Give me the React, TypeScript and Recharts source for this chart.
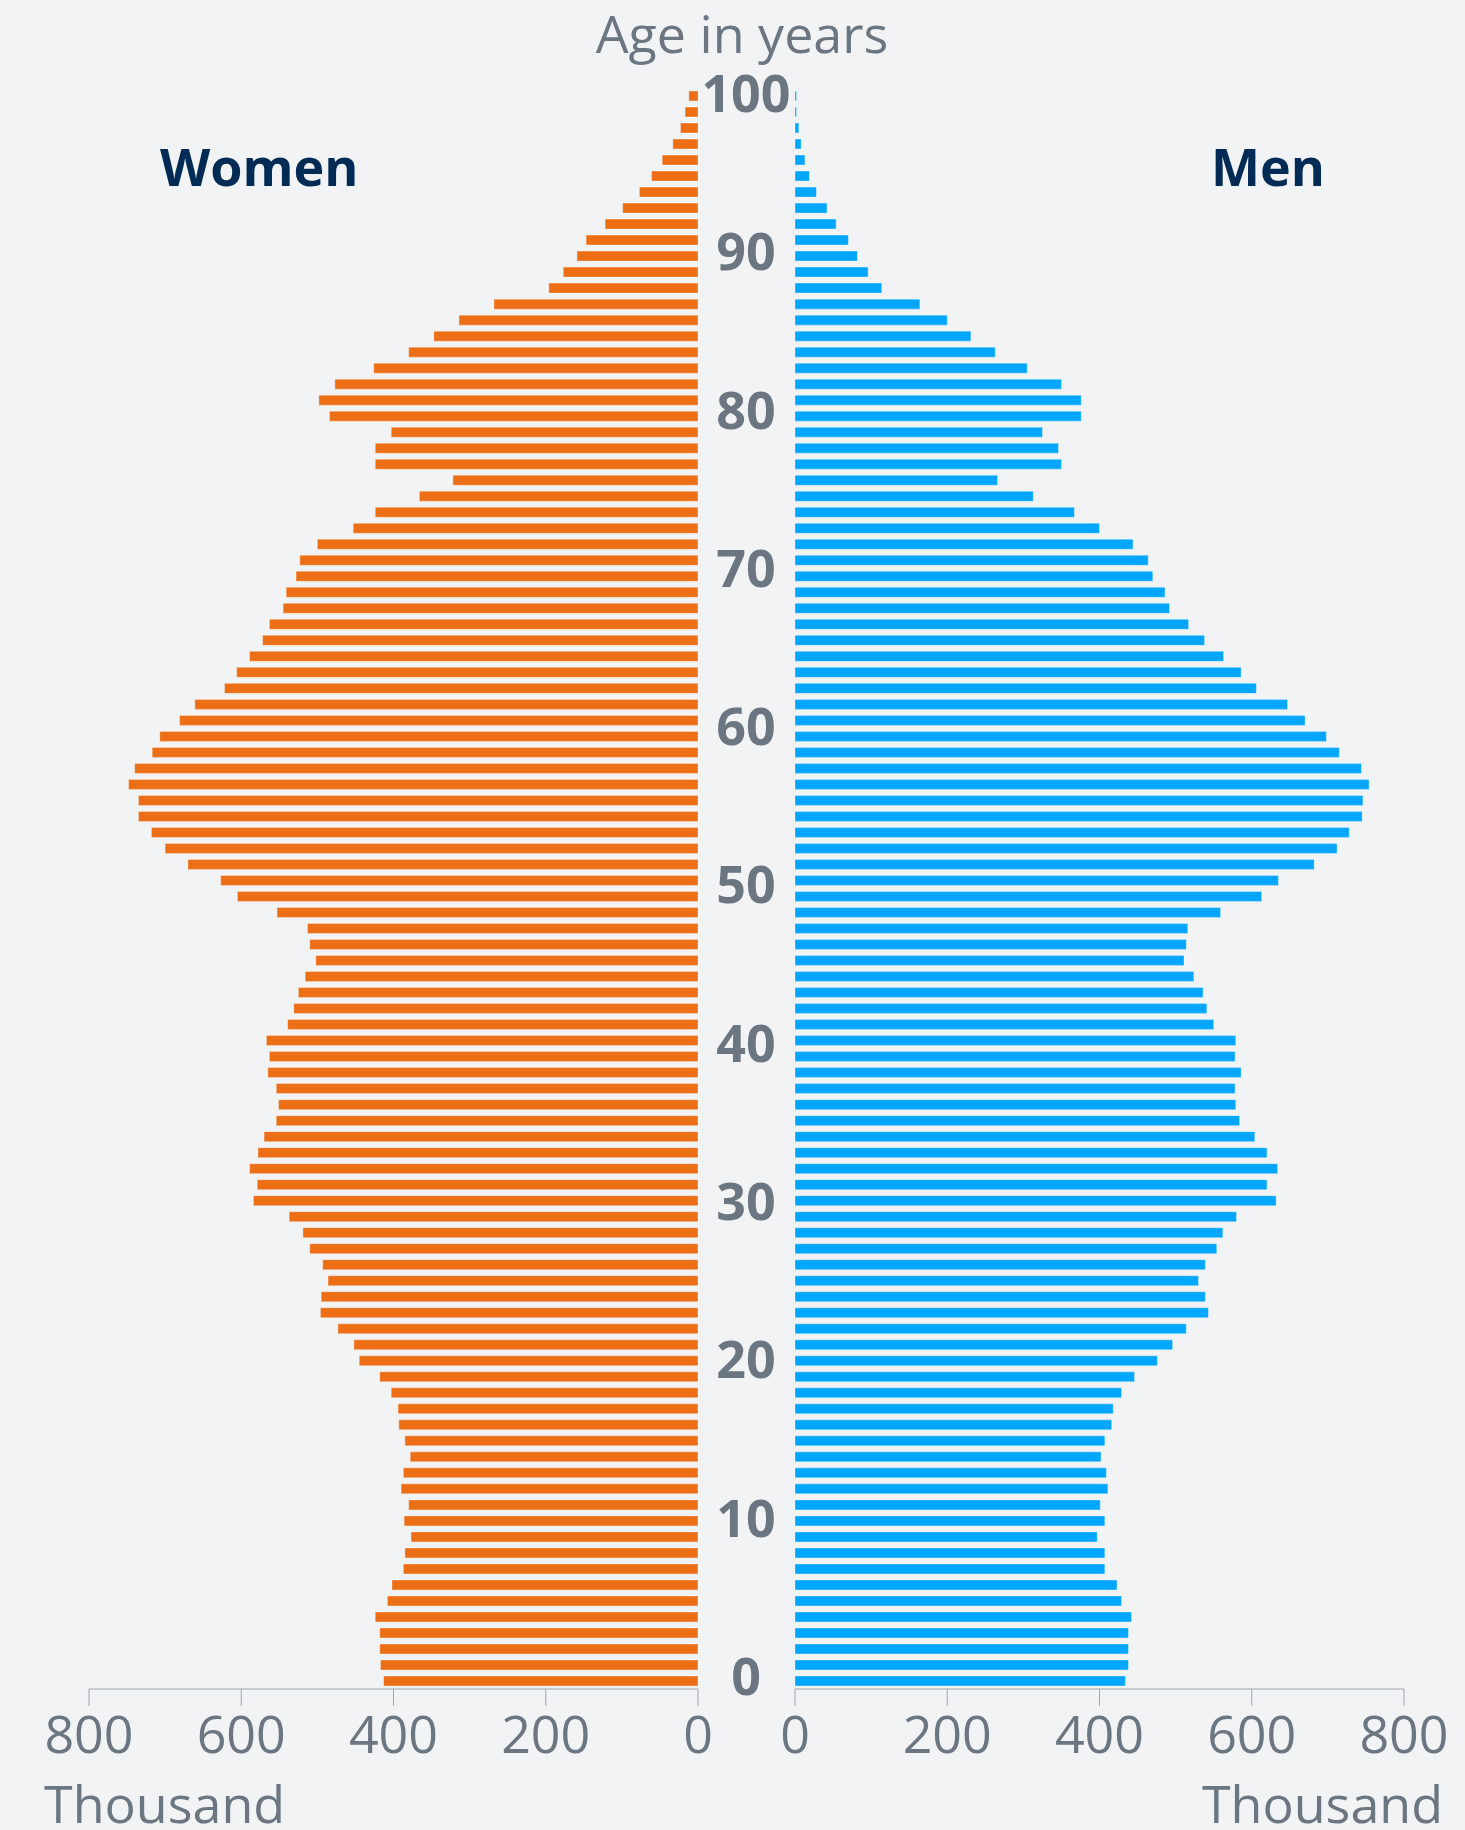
import { BarChart, Bar, XAxis, YAxis } from "recharts";

// age in years, 0 at the bottom of the pyramid
const ages = Array.from({ length: 100 }, (_, i) => i);

// population in thousands, by age (0 first)
const women = [
  413, 417, 418, 418, 424, 408, 402, 387, 385, 377,
  386, 380, 390, 387, 378, 385, 393, 394, 403, 418,
  445, 452, 473, 496, 495, 486, 493, 510, 519, 537,
  584, 579, 589, 578, 570, 554, 551, 554, 565, 563,
  567, 539, 531, 525, 516, 502, 510, 513, 553, 605,
  627, 670, 700, 718, 735, 735, 748, 740, 717, 707,
  681, 661, 622, 606, 589, 572, 563, 545, 541, 528,
  523, 500, 453, 424, 366, 322, 424, 424, 403, 484,
  498, 477, 426, 380, 347, 314, 268, 196, 177, 159,
  147, 122, 99, 77, 61, 47, 33, 23, 17, 12,
];

const men = [
  434, 438, 438, 438, 442, 429, 423, 407, 407, 397,
  407, 401, 411, 409, 402, 407, 416, 418, 429, 446,
  476, 496, 514, 543, 539, 530, 539, 554, 562, 580,
  632, 620, 634, 620, 604, 584, 579, 578, 586, 578,
  579, 550, 541, 536, 524, 511, 514, 516, 559, 613,
  635, 682, 712, 728, 745, 746, 754, 744, 715, 698,
  670, 647, 606, 586, 563, 538, 517, 492, 486, 470,
  464, 444, 400, 367, 313, 266, 350, 346, 325, 376,
  376, 350, 305, 263, 231, 200, 164, 114, 96, 82,
  70, 54, 42, 28, 19, 13, 8, 5, 2, 2,
];

const valueTicks = [0, 200, 400, 600, 800];
const ageTicks = [0, 10, 20, 30, 40, 50, 60, 70, 80, 90, 100];

const rows = ages.map((age, i) => ({ age, women: women[i], men: men[i] }));

const GRAY = "#6c7680";
const AXIS = "#9ea6ae";
const NAVY = "#002b55";
const ORANGE = "#ec6e15";
const BLUE = "#00a6ff";
const FONT = "'Open Sans', sans-serif";

function AgeTick(props: any) {
  const { x, y, payload } = props;
  return (
    <text x={x + 48} y={y} dy={18} textAnchor="middle" fill={GRAY} fontSize={52} fontWeight={700} fontFamily={FONT}>
      {payload.value}
    </text>
  );
}

const tickStyle = { fill: GRAY, fontSize: 52, fontFamily: FONT };

export default function App() {
  return (
    <div
      style={{
        position: "absolute",
        top: 0,
        left: 0,
        width: 1465,
        height: 1830,
        background: "#f2f3f5",
        fontFamily: FONT,
        overflow: "hidden",
      }}
    >
      <div style={{ position: "absolute", left: 0, top: 0 }}>
        <BarChart
          width={795}
          height={1830}
          data={rows}
          layout="vertical"
          margin={{ top: 88, right: 0, bottom: 0, left: 89 }}
          barSize={10}
        >
          <XAxis
            type="number"
            domain={[0, 800]}
            ticks={valueTicks}
            reversed
            height={141}
            interval={0}
            stroke={AXIS}
            tickSize={17}
            tickMargin={10}
            tick={tickStyle}
          />
          <YAxis yAxisId="cat" type="category" dataKey="age" reversed hide width={0} />
          {/* age labels sit a little inside the bar block, as in the source chart */}
          <YAxis
            yAxisId="age"
            type="number"
            dataKey="age"
            orientation="right"
            domain={[-0.76, 100.38]}
            ticks={ageTicks}
            reversed
            allowDataOverflow
            interval={0}
            width={97}
            axisLine={false}
            tickLine={false}
            tickSize={0}
            tickMargin={0}
            tick={<AgeTick />}
          />
          <Bar
            yAxisId="cat"
            dataKey="women"
            fill={ORANGE}
            stroke="#ffffff"
            strokeOpacity={0.35}
            strokeWidth={1}
            isAnimationActive={false}
          />
        </BarChart>
      </div>

      <div style={{ position: "absolute", left: 700, top: 0 }}>
        <BarChart
          width={765}
          height={1830}
          data={rows}
          layout="vertical"
          margin={{ top: 88, right: 61, bottom: 0, left: 95 }}
          barSize={10}
        >
          <XAxis
            type="number"
            domain={[0, 800]}
            ticks={valueTicks}
            height={141}
            interval={0}
            stroke={AXIS}
            tickSize={17}
            tickMargin={10}
            tick={tickStyle}
          />
          <YAxis type="category" dataKey="age" reversed hide width={0} />
          <Bar
            dataKey="men"
            fill={BLUE}
            stroke="#ffffff"
            strokeOpacity={0.35}
            strokeWidth={1}
            isAnimationActive={false}
          />
        </BarChart>
      </div>

      <div style={{ position: "absolute", left: 0, width: 1484, top: 7, textAlign: "center", fontSize: 52, lineHeight: "52px", color: GRAY }}>
        Age in years
      </div>
      <div style={{ position: "absolute", left: 160, top: 140, fontSize: 52, lineHeight: "52px", fontWeight: 700, color: NAVY }}>
        Women
      </div>
      <div style={{ position: "absolute", left: 1211, top: 140, fontSize: 52, lineHeight: "52px", fontWeight: 700, color: NAVY }}>
        Men
      </div>
      <div style={{ position: "absolute", left: 44, top: 1777, fontSize: 52, lineHeight: "52px", color: GRAY }}>
        Thousand
      </div>
      <div style={{ position: "absolute", right: 22, top: 1777, fontSize: 52, lineHeight: "52px", color: GRAY }}>
        Thousand
      </div>
    </div>
  );
}
